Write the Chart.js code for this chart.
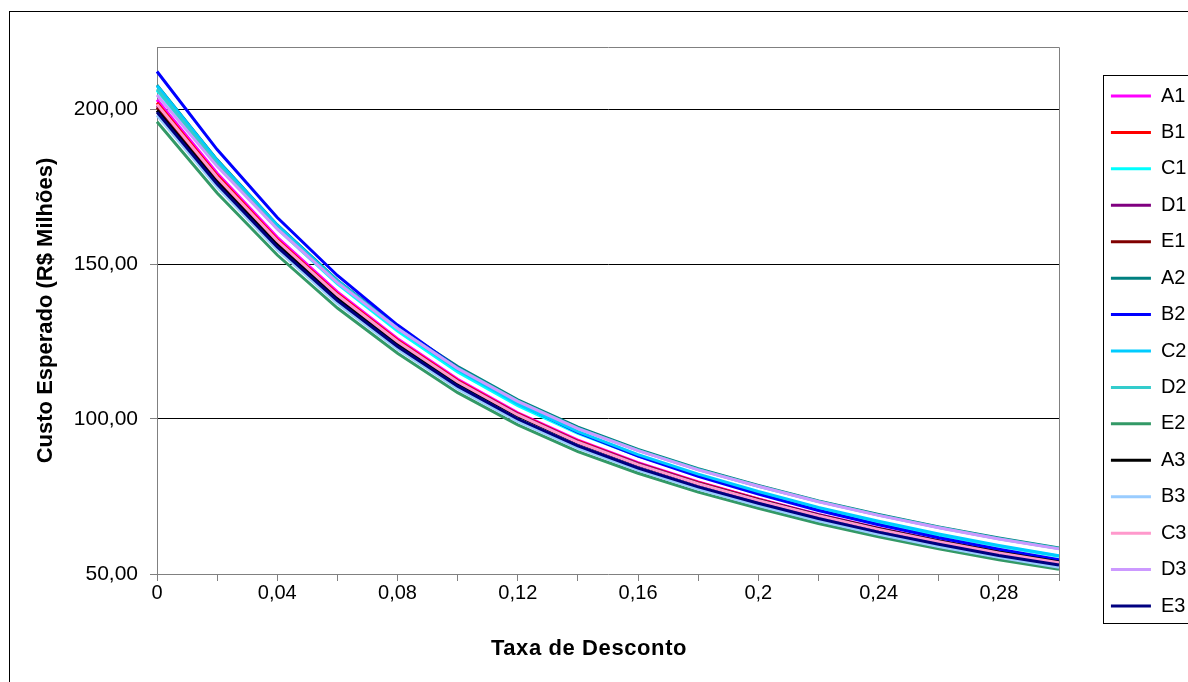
<!DOCTYPE html>
<html>
<head>
<meta charset="utf-8">
<script src="https://cdn.jsdelivr.net/npm/chart.js@4"></script>
<style>
  html, body { margin: 0; padding: 0; background: #fff; overflow: hidden; }
  canvas { display: block; }
</style>
</head>
<body>
<canvas id="chart" width="1188" height="682"></canvas>
<script>
// Discount rate categories (x axis)
const CATEGORIES = ['0', '0,02', '0,04', '0,06', '0,08', '0,1', '0,12', '0,14',
                    '0,16', '0,18', '0,2', '0,22', '0,24', '0,26', '0,28', '0,3'];

// Expected cost (R$ millions) per scenario
const A1 = [203.0, 179.3, 158.6, 141.0, 125.9, 112.8, 102.0, 93.2, 85.9, 79.7, 74.2, 69.2, 64.8, 60.7, 57.1, 53.9];
const B1 = [202.0, 178.5, 157.9, 140.4, 125.4, 112.4, 101.7, 92.9, 85.7, 79.5, 74.1, 69.0, 64.6, 60.6, 57.0, 53.8];
const C1 = [206.0, 182.2, 161.4, 143.6, 128.4, 115.2, 104.3, 95.4, 88.1, 81.8, 76.3, 71.2, 66.7, 62.6, 59.0, 55.7];
const D1 = [201.0, 177.7, 157.3, 139.9, 125.0, 112.1, 101.5, 92.7, 85.6, 79.4, 74.0, 69.1, 64.7, 60.7, 57.1, 53.9];
const E1 = [200.5, 177.2, 156.9, 139.5, 124.7, 111.8, 101.2, 92.5, 85.3, 79.2, 73.8, 68.9, 64.5, 60.5, 57.0, 53.8];
const A2 = [207.7, 183.6, 162.6, 144.7, 129.6, 116.9, 106.2, 97.4, 90.2, 84.0, 78.6, 73.6, 69.2, 65.2, 61.6, 58.4];
const B2 = [212.1, 186.9, 165.0, 146.3, 130.3, 116.4, 105.1, 95.7, 88.0, 81.5, 75.8, 70.5, 65.9, 61.7, 58.0, 54.6];
const C2 = [207.5, 183.4, 162.5, 144.5, 129.2, 115.9, 104.9, 95.9, 88.5, 82.2, 76.6, 71.5, 67.0, 62.9, 59.2, 55.9];
const D2 = [206.4, 182.4, 161.6, 144.2, 129.3, 116.4, 105.8, 97.0, 89.9, 83.7, 78.3, 73.4, 69.0, 65.0, 61.4, 58.2];
const E2 = [195.9, 172.9, 152.9, 135.8, 121.2, 108.5, 98.1, 89.5, 82.5, 76.4, 71.2, 66.3, 62.0, 58.1, 54.6, 51.5];
const A3 = [199.5, 176.4, 156.2, 139.0, 124.3, 111.5, 101.0, 92.3, 85.2, 79.1, 73.8, 68.9, 64.5, 60.6, 57.0, 53.9];
const B3 = [198.0, 174.8, 154.6, 137.3, 122.6, 109.8, 99.2, 90.6, 83.5, 77.4, 72.1, 67.2, 62.8, 58.9, 55.4, 52.2];
const C3 = [201.5, 178.0, 157.5, 140.0, 125.0, 112.0, 101.3, 92.5, 85.3, 79.1, 73.7, 68.8, 64.4, 60.4, 56.8, 53.6];
const D3 = [204.5, 181.5, 161.3, 144.0, 129.2, 116.3, 105.7, 96.9, 89.8, 83.6, 78.3, 73.3, 68.9, 64.9, 61.3, 58.1];
const E3 = [199.0, 175.8, 155.5, 138.2, 123.4, 110.6, 100.0, 91.3, 84.2, 78.1, 72.8, 67.9, 63.5, 59.6, 56.0, 52.9];

// Y axis ticks
const Y_TICKS = [50, 100, 150, 200];

const SERIES = { A1, B1, C1, D1, E1, A2, B2, C2, D2, E2, A3, B3, C3, D3, E3 };
const COLORS = {
  A1: '#FF00FF', B1: '#FF0000', C1: '#00FFFF', D1: '#800080', E1: '#800000',
  A2: '#008080', B2: '#0000FF', C2: '#00CCFF', D2: '#33CCCC', E2: '#339966',
  A3: '#000000', B3: '#99CCFF', C3: '#FF99CC', D3: '#CC99FF', E3: '#000080'
};

const FONT = '"Liberation Sans", Arial, Helvetica, sans-serif';
const names = Object.keys(SERIES);

const datasets = names.map((name, i) => ({
  label: name,
  data: SERIES[name],
  borderColor: COLORS[name],
  backgroundColor: COLORS[name],
  borderWidth: 3,
  pointRadius: 0,
  pointHoverRadius: 0,
  tension: 0,
  // later series are painted over earlier ones
  order: names.length - 1 - i
}));

// Frames, legend placement and the x-axis caption
const chartDecor = {
  id: 'chartDecor',
  afterLayout(chart) {
    const lg = chart.legend;
    lg.left = 1094.5;
    lg.right = 1188;
    lg.width = lg.right - lg.left;
    lg.top = 10;
    lg.bottom = 692;
    lg.height = lg.bottom - lg.top;
  },
  afterDraw(chart) {
    const { ctx, chartArea: a } = chart;
    ctx.save();
    ctx.lineWidth = 1;
    // plot area top and right edges
    ctx.strokeStyle = '#808080';
    ctx.beginPath();
    ctx.moveTo(Math.round(a.left) + 0.5, Math.round(a.top) + 0.5);
    ctx.lineTo(Math.round(a.right) + 0.5, Math.round(a.top) + 0.5);
    ctx.lineTo(Math.round(a.right) + 0.5, Math.round(a.bottom) + 0.5);
    ctx.stroke();
    // outer chart frame and legend frame
    ctx.strokeStyle = '#000';
    ctx.strokeRect(9.5, 11.5, 1400, 1000);
    ctx.strokeRect(1103.5, 75.5, 300, 548);
    // x-axis caption
    ctx.fillStyle = '#000';
    ctx.font = 'bold 22px ' + FONT;
    ctx.textAlign = 'center';
    ctx.textBaseline = 'middle';
    if ('letterSpacing' in ctx) ctx.letterSpacing = '0.6px';
    ctx.fillText('Taxa de Desconto', 589, 649);
    ctx.restore();
  }
};

new Chart(document.getElementById('chart'), {
  type: 'line',
  data: { labels: CATEGORIES, datasets },
  plugins: [chartDecor],
  options: {
    responsive: false,
    animation: false,
    devicePixelRatio: 1,
    events: [],
    layout: { padding: { left: 0, top: 47, right: 128, bottom: 0 } },
    plugins: {
      tooltip: { enabled: false },
      legend: {
        display: true,
        position: 'right',
        maxWidth: 1,
        labels: {
          usePointStyle: true,
          pointStyle: 'line',
          pointStyleWidth: 40,
          padding: 16.43,
          color: '#000',
          font: { family: FONT, size: 20 },
          sort: (a, b) => a.datasetIndex - b.datasetIndex
        }
      }
    },
    scales: {
      x: {
        type: 'category',
        offset: false,
        afterFit(scale) { scale.height = 108; },
        border: { display: true, color: '#808080', width: 1 },
        grid: {
          drawOnChartArea: false,
          drawTicks: true,
          tickLength: 7,
          tickColor: '#808080',
          offset: false
        },
        ticks: {
          autoSkip: false,
          maxRotation: 0,
          minRotation: 0,
          padding: 0,
          color: '#000',
          font: { family: FONT, size: 20 },
          callback: (value, index) => (index % 2 === 0 && index < CATEGORIES.length - 1) ? CATEGORIES[index] : ''
        }
      },
      y: {
        min: 50,
        max: 220,
        afterFit(scale) { scale.width = 157; },
        afterBuildTicks(scale) {
          scale.ticks = Y_TICKS.map(v => ({ value: v }));
        },
        border: { display: true, color: '#808080', width: 1 },
        grid: {
          drawTicks: true,
          tickLength: 7,
          tickColor: '#808080',
          color: (c) => (c.tick && c.tick.value === 50) ? 'rgba(0,0,0,0)' : '#000',
          lineWidth: 1
        },
        ticks: {
          padding: 12,
          color: '#000',
          font: { family: FONT, size: 21 },
          callback: (v) => Number(v).toFixed(2).replace('.', ',')
        },
        title: {
          display: true,
          text: 'Custo Esperado (R$ Milhões)',
          color: '#000',
          font: { family: FONT, size: 22, weight: 'bold' },
          padding: { top: 33, bottom: 0 }
        }
      }
    }
  }
});
</script>
</body>
</html>
